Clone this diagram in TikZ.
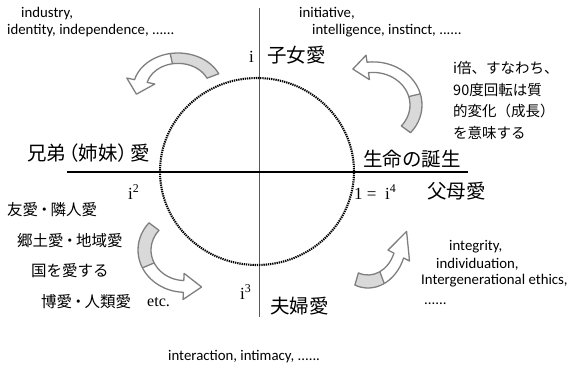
\documentclass[tikz,border=0pt]{standalone}
\usepackage{fontspec}
\setmainfont{Carlito}
\newfontfamily\jpfont{Noto Sans CJK JP}
\newfontfamily\serifnum{Liberation Serif}
\definecolor{arrowfill}{HTML}{D9D9D9}
\definecolor{arrowedge}{HTML}{7F7F7F}
\definecolor{axisgrey}{HTML}{595959}

% #1 rin #2 rout #3 a1 #4 split #5 a2 #6 head half-extra #7 head length
\newcommand\bentarrow[7]{%
  \pgfmathsetmacro\bArmid{(#1+#2)/2}%
  \pgfmathsetmacro\bArhi{#2+#6}%
  \pgfmathsetmacro\bArlo{#1-#6}%
  \pgfmathsetmacro\bAtx{\bArmid*cos(#5)+#7*cos(#5+90)}%
  \pgfmathsetmacro\bAty{\bArmid*sin(#5)+#7*sin(#5+90)}%
  \fill[arrowfill] (#3:#2pt) arc[start angle=#3,end angle=#4,radius=#2pt]
     -- (#4:#1pt) arc[start angle=#4,end angle=#3,radius=#1pt] -- cycle;
  \draw[arrowedge,line width=1.3pt,line join=round]
     (#3:#2pt) arc[start angle=#3,end angle=#5,radius=#2pt]
     -- (#5:\bArhi pt) -- (\bAtx pt,\bAty pt) -- (#5:\bArlo pt) -- (#5:#1pt)
     arc[start angle=#5,end angle=#3,radius=#1pt] -- cycle;
  \draw[arrowedge,line width=1.3pt] (#4:#1pt) -- (#4:#2pt);
}

\tikzset{
  lat/.style={font=\fontsize{14.8}{17}\selectfont, inner sep=0pt, anchor=west},
  jpbig/.style={font=\jpfont\fontsize{19.5}{23}\selectfont, inner sep=0pt, anchor=west},
  jplist/.style={font=\jpfont\fontsize{15.5}{18}\selectfont, inner sep=0pt, anchor=west},
  jpsmall/.style={font=\jpfont\fontsize{14.5}{21.5}\selectfont, inner sep=0pt, anchor=west, align=left},
  serl/.style={font=\serifnum\fontsize{17}{20}\selectfont, inner sep=0pt, anchor=west},
  dotcircle/.style={line width=2.1pt, dash pattern=on 1.3pt off 0.9pt},
}

\begin{document}
\begin{tikzpicture}[x=1pt,y=1pt]
\useasboundingbox (0,0) rectangle (571,-366);

% axes and circle
\coordinate (vtop) at (259,-8);
\coordinate (vbot) at (259,-317);
\coordinate (hleft) at (67,-172);
\coordinate (hright) at (468,-172);
\draw[axisgrey, line width=1pt] (vtop) -- (vbot);
\draw[dotcircle] (257,-171.5) ellipse [x radius=97pt, y radius=93.5pt];
\draw[line width=2.4pt] (hleft) -- (hright);

% bent arrows
\begin{scope}[shift={(178,-89)},yscale=0.8]
  \bentarrow{32}{45}{25}{100}{165}{8}{17}
\end{scope}
\begin{scope}[shift={(373,-105)},yscale=0.88]
  \bentarrow{37}{49}{-40}{15}{97}{8}{15}
\end{scope}
\begin{scope}[shift={(185,-250)},yscale=0.9]
  \bentarrow{34}{47}{140}{205}{268}{8}{18}
\end{scope}
\begin{scope}[shift={(368,-240)},xscale=0.8]
  \bentarrow{35}{48}{250}{295}{338}{8}{26}
\end{scope}

% English labels
\node[lat] (industry) at (21,-14) {industry,};
\node[lat] (identity) at (7,-31) {identity, independence, ......};
\node[lat] (initiative) at (299,-13) {initiative,};
\node[lat] (intelligence) at (312,-31) {intelligence, instinct, ......};
\node[lat] (integrity) at (449,-247) {integrity,};
\node[lat] (individuation) at (436,-264) {individuation,};
\node[lat] (intergen) at (421,-281) {Intergenerational ethics,};
\node[lat] (dots) at (424,-304) {......};
\node[lat] (interaction) at (168,-357) {interaction, intimacy, ......};

% powers of i
\node[serl] (ione) at (249,-57) {i};
\node[serl] (itwo) at (128,-192) {i\textsuperscript{2}};
\node[serl] (ithree) at (240,-292) {i\textsuperscript{3}};
\node[serl] (ifour) at (354,-192) {1 =\ \ i\textsuperscript{4}};
\node[font=\serifnum\fontsize{16}{19}\selectfont, inner sep=0pt, anchor=west] (etc) at (147,-302) {etc.};

% Japanese labels
\node[jpbig] (child) at (267,-55) {子女愛};
\node[jpbig] (sibling) at (27,-153) {兄弟\kern-7pt（姉妹）\kern-7pt愛};
\node[jpbig] (birth) at (363,-159) {生命の誕生};
\node[jpbig] (parent) at (427,-191) {父母愛};
\node[jpbig] (couple) at (270,-306) {夫婦愛};

\node[jplist] (friend) at (7,-210) {友愛\kern-1.5pt・\kern-1.5pt隣人愛};
\node[jplist] (home) at (17,-241) {郷土愛\kern-1.5pt・\kern-1.5pt地域愛};
\node[jplist] (country) at (31,-271) {国を愛する};
\node[jplist] (human) at (41,-302) {博愛\kern-1.5pt・\kern-1.5pt人類愛};

\node[jpsmall] (meaning) at (453,-100.5) {i倍、すなわち、\\90度回転は質\\的変化（成長）\\を意味する};
\end{tikzpicture}
\end{document}
